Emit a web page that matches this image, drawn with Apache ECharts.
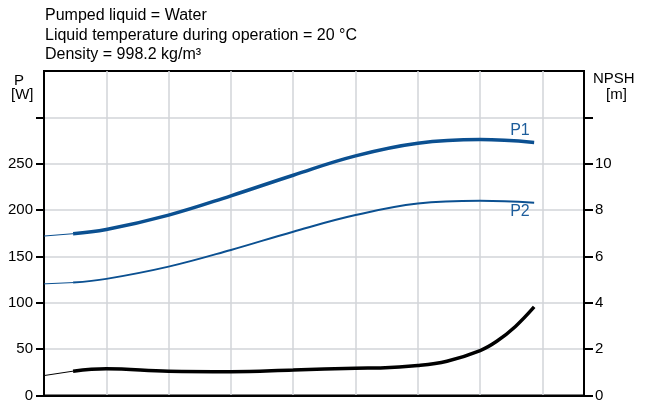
<!DOCTYPE html>
<html>
<head>
<meta charset="utf-8">
<script src="https://cdn.jsdelivr.net/npm/echarts@6/dist/echarts.min.js"></script>
<style>
html,body{margin:0;padding:0;background:#fff;}
#c{width:649px;height:403px;}
</style>
</head>
<body>
<div id="c"></div>
<script>
// Flow positions (x axis, no labels shown)
const flowThin = [0, 1.4];
const flowP = [1.4, 3, 6, 9, 12, 15, 18, 21, 23.6];
const flowN = [1.4, 3, 6, 9, 12, 15, 16.2, 18, 19.4, 21, 21.8, 22.7, 23.6];

// Power P1, P2 [W]
const p1Thin = [172, 174.5];
const p1 = [174.5, 179, 194.6, 215.4, 237.6, 258.4, 272, 276, 273];
const p2Thin = [120.4, 121.8];
const p2 = [121.8, 125.8, 139, 157, 176.7, 194.6, 207, 210, 208];

// NPSH [m]
const npshThin = [0.86, 1.05];
const npsh = [1.05, 1.15, 1.05, 1.03, 1.1, 1.18, 1.19, 1.29, 1.48, 1.94, 2.34, 2.98, 3.82];

// Tick labels
const leftTicks = [0, 50, 100, 150, 200, 250, 300];
const leftLabels = [0, 50, 100, 150, 200, 250];
const rightTicks = [0, 2, 4, 6, 8, 10, 12];
const rightLabels = [0, 2, 4, 6, 8, 10];

const titleLines = ['Pumped liquid = Water', 'Liquid temperature during operation = 20 °C', 'Density = 998.2 kg/m³'];
const curveNames = ['P1', 'P2'];

const BLUE = '#0b5091';
const FONT = 'Liberation Sans, Arial, sans-serif';
const zip = (xs, ys) => xs.map((x, i) => [x, ys[i]]);

const chart = echarts.init(document.getElementById('c'));
chart.setOption({
  animation: false,
  backgroundColor: '#fff',
  title: {
    text: titleLines.join('\n'),
    left: 40, top: 1,
    textStyle: { fontSize: 16, fontWeight: 'normal', color: '#000', fontFamily: FONT, lineHeight: 19.5 }
  },
  grid: { left: 44, right: 65, top: 71, bottom: 7, show: true, borderColor: '#000', borderWidth: 2, containLabel: false },
  xAxis: {
    type: 'value', min: 0, max: 26, interval: 3,
    axisLine: { show: true, lineStyle: { color: '#000', width: 2 } },
    axisTick: { show: false }, axisLabel: { show: false },
    splitLine: { show: true, lineStyle: { color: '#d2d4d8', width: 1.5 } }
  },
  yAxis: [{
    type: 'value', min: 0, max: 350, interval: 50, position: 'left',
    axisLine: { show: true, lineStyle: { color: '#000', width: 2 } },
    axisTick: { show: true, length: 8, customValues: leftTicks, lineStyle: { color: '#000', width: 2 } },
    axisLabel: { customValues: leftLabels, margin: 11, color: '#000', fontSize: 15, fontFamily: FONT },
    splitLine: { show: true, lineStyle: { color: '#d2d4d8', width: 1.5 } }
  }, {
    type: 'value', min: 0, max: 14, interval: 2, position: 'right',
    axisLine: { show: true, lineStyle: { color: '#000', width: 2 } },
    axisTick: { show: true, length: 9, customValues: rightTicks, lineStyle: { color: '#000', width: 2 } },
    axisLabel: { customValues: rightLabels, margin: 11, color: '#000', fontSize: 15, fontFamily: FONT },
    splitLine: { show: false }
  }],
  graphic: [
    { type: 'text', left: 14, top: 73, style: { text: 'P', fontSize: 15, fontFamily: FONT, fill: '#000' } },
    { type: 'text', left: 11, top: 87, style: { text: '[W]', fontSize: 15, fontFamily: FONT, fill: '#000' } },
    { type: 'text', left: 593, top: 71, style: { text: 'NPSH', fontSize: 15, fontFamily: FONT, fill: '#000' } },
    { type: 'text', left: 606, top: 87, style: { text: '[m]', fontSize: 15, fontFamily: FONT, fill: '#000' } }
  ],
  series: [
    { type: 'line', yAxisIndex: 0, data: zip(flowThin, p1Thin), showSymbol: false, lineStyle: { color: BLUE, width: 1 } },
    { type: 'line', name: curveNames[0], yAxisIndex: 0, data: zip(flowP, p1), smooth: 0.4, showSymbol: false, lineStyle: { color: BLUE, width: 3.5 },
      endLabel: { show: true, formatter: curveNames[0], offset: [-32, -12], color: '#1d5d9b', fontSize: 16, fontFamily: FONT } },
    { type: 'line', yAxisIndex: 0, data: zip(flowThin, p2Thin), showSymbol: false, lineStyle: { color: BLUE, width: 1 } },
    { type: 'line', name: curveNames[1], yAxisIndex: 0, data: zip(flowP, p2), smooth: 0.4, showSymbol: false, lineStyle: { color: BLUE, width: 2 },
      endLabel: { show: true, formatter: curveNames[1], offset: [-32, 9], color: '#1d5d9b', fontSize: 16, fontFamily: FONT } },
    { type: 'line', yAxisIndex: 1, data: zip(flowThin, npshThin), showSymbol: false, lineStyle: { color: '#000', width: 1 } },
    { type: 'line', yAxisIndex: 1, data: zip(flowN, npsh), smooth: 0.4, showSymbol: false, lineStyle: { color: '#000', width: 3.5 } }
  ]
});
</script>
</body>
</html>
